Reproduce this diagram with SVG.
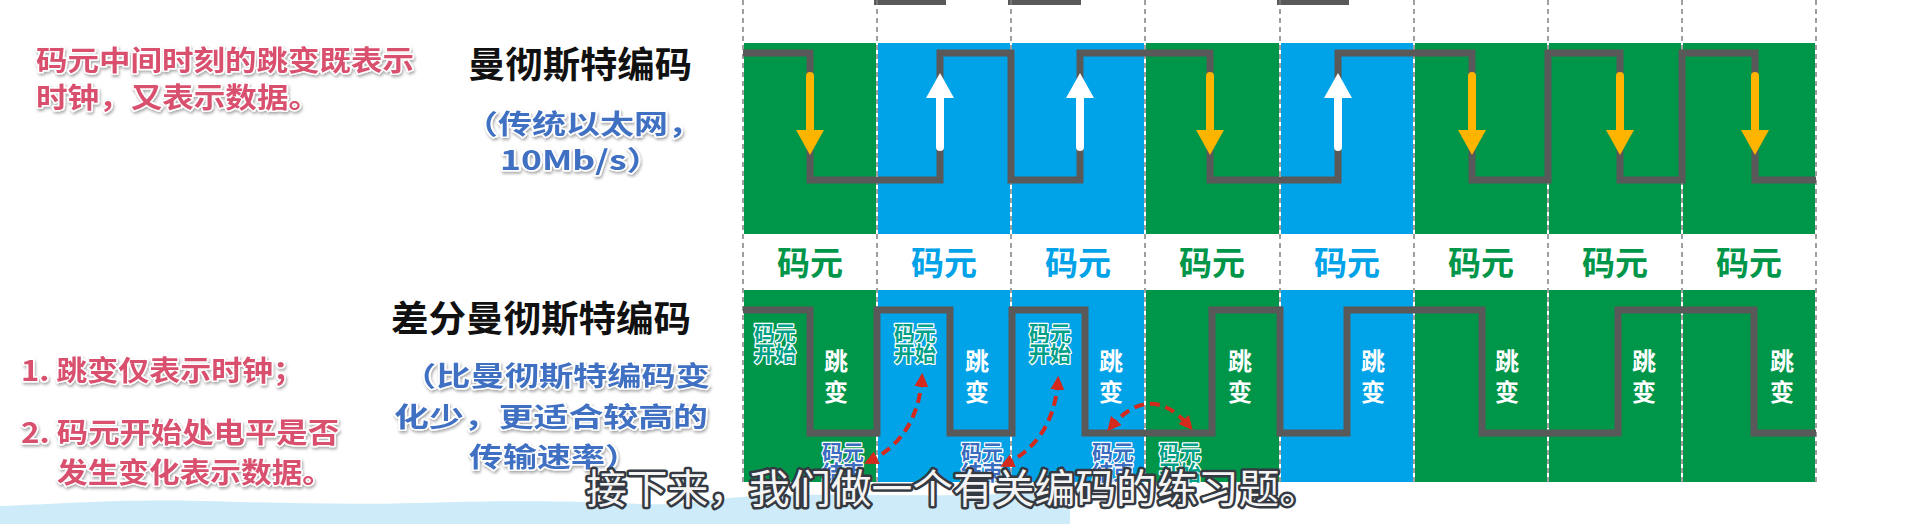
<svg xmlns="http://www.w3.org/2000/svg" width="1918" height="524" viewBox="0 0 1918 524">
<defs>
<style>
text { font-family: "Noto Sans CJK SC", "Noto Sans", sans-serif; font-weight: 700; }
.pink { fill:#d9506e; stroke:#ffffff; stroke-width:3; paint-order:stroke; stroke-linejoin:round; filter:url(#sh); font-size:28px; }
.blue { fill:#3f6fc2; stroke:#ffffff; stroke-width:3; paint-order:stroke; stroke-linejoin:round; filter:url(#sh); font-size:27px; }
.title { fill:#111111; font-size:36px; }
.g { fill:#00964a; }
.b { fill:#00a2e8; }
.lg { fill:#00964a; font-size:33px; text-anchor:middle; }
.lb { fill:#00a2e8; font-size:33px; text-anchor:middle; }
.dash { stroke:#808080; stroke-width:1.5; stroke-dasharray:5 4; fill:none; }
.wave { fill:none; stroke:#595959; stroke-width:7; stroke-linejoin:miter; }
.tiao { fill:#ffffff; font-size:24px; text-anchor:middle; }
.st { fill:#00a088; stroke:#ffffff; stroke-width:2.5; paint-order:stroke; stroke-linejoin:round; font-size:21px; text-anchor:middle; }
.en { fill:#3a6cc0; stroke:#ffffff; stroke-width:2.5; paint-order:stroke; stroke-linejoin:round; font-size:21px; text-anchor:middle; }
.red { fill:none; stroke:#d42a1e; stroke-width:4; stroke-dasharray:10 6; marker-start:url(#ah); marker-end:url(#ah); }
.sub { fill:#f4f4f4; stroke:#353a42; stroke-width:5; paint-order:stroke; stroke-linejoin:round; font-weight:400; font-size:40px; }
.seg { fill:#595959; }
</style>
<filter id="sh" x="-5%" y="-30%" width="110%" height="170%">
<feDropShadow dx="1" dy="2" stdDeviation="1.5" flood-color="#000000" flood-opacity="0.35"/>
</filter>
<marker id="ah" viewBox="0 0 10 10" refX="7" refY="5" markerWidth="3.5" markerHeight="3.5" orient="auto-start-reverse">
<path d="M0,0 L10,5 L0,10 z" fill="#d42a1e"/>
</marker>
<g id="darr">
<line x1="0" y1="76" x2="0" y2="134" stroke="#ffb400" stroke-width="8" stroke-linecap="round"/>
<polygon points="-14,130 14,130 0,155" fill="#ffb400"/>
</g>
<g id="uarr">
<polygon points="0,73 -14,98 14,98" fill="#ffffff"/>
<line x1="0" y1="96" x2="0" y2="147" stroke="#ffffff" stroke-width="8" stroke-linecap="round"/>
</g>
</defs>

<rect x="0" y="0" width="1918" height="524" fill="#ffffff"/>

<!-- background band -->
<path d="M0,524 L0,506 C60,504 120,499 200,501 C280,503 340,505 420,503 C500,501 560,500 640,504 C690,506 720,497 770,495 C850,494 930,497 1000,494 L1070,493 L1070,524 Z" fill="#cdebf8"/>

<!-- cut-off waveform at top -->
<g id="top-remnant">
<rect class="seg" x="874" y="0" width="72" height="5"/>
<rect class="seg" x="1008" y="0" width="73" height="5"/>
<rect class="seg" x="1277" y="0" width="72" height="5"/>
</g>

<!-- left notes -->
<g id="note-manchester">
<text class="pink" x="36" y="71" textLength="378" lengthAdjust="spacingAndGlyphs">码元中间时刻的跳变既表示</text>
<text class="pink" x="36" y="108" textLength="284" lengthAdjust="spacingAndGlyphs">时钟，又表示数据。</text>
</g>
<g id="note-diff">
<text class="pink" x="21" y="381" textLength="283" lengthAdjust="spacingAndGlyphs">1. 跳变仅表示时钟；</text>
<text class="pink" x="21" y="443" textLength="318" lengthAdjust="spacingAndGlyphs">2. 码元开始处电平是否</text>
<text class="pink" x="57" y="483" textLength="276" lengthAdjust="spacingAndGlyphs">发生变化表示数据。</text>
</g>

<!-- titles -->
<g id="title-manchester">
<text class="title" x="468" y="78" textLength="224" lengthAdjust="spacingAndGlyphs">曼彻斯特编码</text>
<text class="blue" x="464" y="134" textLength="238" lengthAdjust="spacingAndGlyphs">（传统以太网，</text>
<text class="blue" x="500" y="170" textLength="162" lengthAdjust="spacingAndGlyphs">10Mb/s）</text>
</g>
<g id="title-diff">
<text class="title" x="391" y="332" textLength="300" lengthAdjust="spacingAndGlyphs">差分曼彻斯特编码</text>
<text class="blue" x="402" y="386" textLength="308" lengthAdjust="spacingAndGlyphs">（比曼彻斯特编码变</text>
<text class="blue" x="394" y="427" textLength="314" lengthAdjust="spacingAndGlyphs">化少，更适合较高的</text>
<text class="blue" x="469" y="467" textLength="170" lengthAdjust="spacingAndGlyphs">传输速率）</text>
</g>

<!-- dashed column separators -->
<g id="grid">
<line class="dash" x1="743" y1="0" x2="743" y2="484"/>
<line class="dash" x1="877" y1="0" x2="877" y2="484"/>
<line class="dash" x1="1011" y1="0" x2="1011" y2="484"/>
<line class="dash" x1="1145" y1="0" x2="1145" y2="484"/>
<line class="dash" x1="1280" y1="0" x2="1280" y2="484"/>
<line class="dash" x1="1414" y1="0" x2="1414" y2="484"/>
<line class="dash" x1="1548" y1="0" x2="1548" y2="484"/>
<line class="dash" x1="1682" y1="0" x2="1682" y2="484"/>
<line class="dash" x1="1816" y1="0" x2="1816" y2="484"/>
</g>

<!-- Manchester row -->
<g id="manchester-cells">
<rect class="g" x="744" y="43" width="132" height="191"/>
<rect class="b" x="878" y="43" width="132" height="191"/>
<rect class="b" x="1012" y="43" width="132" height="191"/>
<rect class="g" x="1146" y="43" width="133" height="191"/>
<rect class="b" x="1281" y="43" width="132" height="191"/>
<rect class="g" x="1415" y="43" width="132" height="191"/>
<rect class="g" x="1549" y="43" width="132" height="191"/>
<rect class="g" x="1683" y="43" width="132" height="191"/>
</g>
<g id="manchester-wave">
<path class="wave" d="M743,53 H810 V180 H940 V53 H1011 V180 H1080 V53 H1210 V180 H1338 V53 H1472 V180 H1548 V53 H1620 V180 H1682 V53 H1755 V180 H1816"/>
</g>
<g id="manchester-arrows">
<use href="#darr" x="810"/>
<use href="#uarr" x="940"/>
<use href="#uarr" x="1080"/>
<use href="#darr" x="1210"/>
<use href="#uarr" x="1338"/>
<use href="#darr" x="1472"/>
<use href="#darr" x="1620"/>
<use href="#darr" x="1755"/>
</g>

<!-- symbol labels -->
<g id="symbol-labels">
<text class="lg" x="810" y="275">码元</text>
<text class="lb" x="944" y="275">码元</text>
<text class="lb" x="1078" y="275">码元</text>
<text class="lg" x="1212" y="275">码元</text>
<text class="lb" x="1347" y="275">码元</text>
<text class="lg" x="1481" y="275">码元</text>
<text class="lg" x="1615" y="275">码元</text>
<text class="lg" x="1749" y="275">码元</text>
</g>

<!-- Differential Manchester row -->
<g id="diff-cells">
<rect class="g" x="744" y="290" width="132" height="192"/>
<rect class="b" x="878" y="290" width="132" height="192"/>
<rect class="b" x="1012" y="290" width="132" height="192"/>
<rect class="g" x="1146" y="290" width="133" height="192"/>
<rect class="b" x="1281" y="290" width="132" height="192"/>
<rect class="g" x="1415" y="290" width="132" height="192"/>
<rect class="g" x="1549" y="290" width="132" height="192"/>
<rect class="g" x="1683" y="290" width="132" height="192"/>
</g>
<g id="diff-wave">
<path class="wave" d="M743,310 H810 V433 H877 V310 H950 V433 H1012 V310 H1085 V433 H1212 V310 H1280 V433 H1347 V310 H1482 V433 H1618 V310 H1754 V433 H1816"/>
</g>
<g id="diff-jump-labels">
<text class="tiao" x="836" y="370">跳</text><text class="tiao" x="836" y="401">变</text>
<text class="tiao" x="977" y="370">跳</text><text class="tiao" x="977" y="401">变</text>
<text class="tiao" x="1111" y="370">跳</text><text class="tiao" x="1111" y="401">变</text>
<text class="tiao" x="1240" y="370">跳</text><text class="tiao" x="1240" y="401">变</text>
<text class="tiao" x="1373" y="370">跳</text><text class="tiao" x="1373" y="401">变</text>
<text class="tiao" x="1507" y="370">跳</text><text class="tiao" x="1507" y="401">变</text>
<text class="tiao" x="1644" y="370">跳</text><text class="tiao" x="1644" y="401">变</text>
<text class="tiao" x="1782" y="370">跳</text><text class="tiao" x="1782" y="401">变</text>
</g>
<g id="diff-start-labels">
<text class="st" x="775" y="341">码元</text><text class="st" x="775" y="361">开始</text>
<text class="st" x="915" y="341">码元</text><text class="st" x="915" y="361">开始</text>
<text class="st" x="1050" y="341">码元</text><text class="st" x="1050" y="361">开始</text>
<text class="st" x="1180" y="460">码元</text><text class="st" x="1180" y="480">开始</text>
</g>
<g id="diff-end-labels">
<text class="en" x="843" y="460">码元</text><text class="en" x="843" y="480">结束</text>
<text class="en" x="982" y="460">码元</text><text class="en" x="982" y="480">结束</text>
<text class="en" x="1113" y="460">码元</text><text class="en" x="1113" y="480">结束</text>
</g>

<!-- connectors -->
<g id="connectors">
<path class="red" d="M868,462 Q918,438 922,377"/>
<path class="red" d="M1004,465 Q1054,441 1058,380"/>
<path class="red" d="M1110,428 Q1150,380 1190,427"/>
</g>

<!-- subtitle -->
<g id="subtitle">
<text class="sub" x="586" y="503" textLength="734" lengthAdjust="spacingAndGlyphs">接下来，我们做一个有关编码的练习题。</text>
</g>
</svg>
